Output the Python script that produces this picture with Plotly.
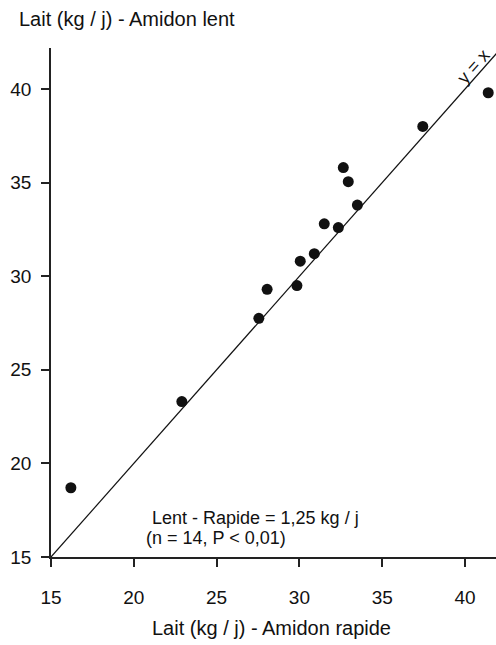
import plotly.graph_objects as go

# Data
rapide = [16.2, 22.9, 27.55, 28.05, 29.85, 30.05, 30.9, 31.5, 32.35, 32.65, 32.95, 33.5, 37.45, 41.4]
lent = [18.7, 23.3, 27.75, 29.3, 29.5, 30.8, 31.2, 32.8, 32.6, 35.8, 35.05, 33.8, 38.0, 39.8]
identity = [15, 43]
tick_vals = [15, 20, 25, 30, 35, 40]

FONT = "Liberation Sans, Arial, Helvetica, sans-serif"
INK = "#111111"

fig = go.Figure()
fig.add_trace(go.Scatter(x=identity, y=identity, mode="lines",
                         line=dict(color=INK, width=1.2), hoverinfo="skip"))
fig.add_trace(go.Scatter(x=rapide, y=lent, mode="markers",
                         marker=dict(color=INK, size=11), cliponaxis=False))

fig.update_layout(
    width=496, height=645,
    margin=dict(l=51, r=0, t=48, b=88, autoexpand=False),
    paper_bgcolor="white", plot_bgcolor="white",
    showlegend=False,
    font=dict(family=FONT, size=19, color=INK),
    xaxis=dict(range=[15, 41.87], tickvals=tick_vals, ticks="outside", ticklen=8,
               tickwidth=1.5, tickcolor="#222", showline=True, linecolor="#222",
               linewidth=1.8, showgrid=False, zeroline=False, automargin=False,
               tickfont=dict(size=19), ticklabelstandoff=14),
    yaxis=dict(range=[15, 42.19], tickvals=tick_vals, ticks="outside", ticklen=8,
               tickwidth=1.5, tickcolor="#222", showline=True, linecolor="#222",
               linewidth=1.8, showgrid=False, zeroline=False, automargin=False,
               tickfont=dict(size=19), ticklabelstandoff=6),
)

fig.add_annotation(text="Lait (kg / j) - Amidon lent", xref="paper", yref="paper",
                   x=-0.0764, y=1.057, xanchor="left", yanchor="middle",
                   showarrow=False, font=dict(size=20))
fig.add_annotation(text="Lait (kg / j) - Amidon rapide", xref="paper", yref="paper",
                   x=0.4955, y=-0.1395, xanchor="center", yanchor="middle",
                   showarrow=False, font=dict(size=20))
fig.add_annotation(text="Lent - Rapide = 1,25 kg / j", x=20.95, y=17.1,
                   xanchor="left", yanchor="middle", showarrow=False, font=dict(size=18))
fig.add_annotation(text="(n = 14, P < 0,01)", x=20.6, y=16.0,
                   xanchor="left", yanchor="middle", showarrow=False, font=dict(size=18))
fig.add_annotation(text="y = x", x=40.54, y=41.23, textangle=-48.5,
                   xanchor="center", yanchor="middle", showarrow=False, font=dict(size=18))

fig.write_html("out.html", config={"displayModeBar": False},
               post_script="document.body.style.margin='0';document.body.style.overflow='hidden';")
